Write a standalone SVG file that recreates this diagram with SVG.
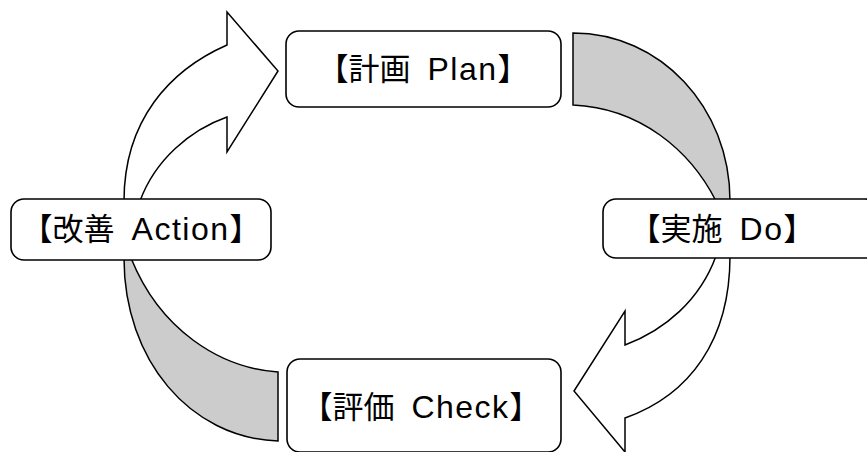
<svg xmlns="http://www.w3.org/2000/svg" width="867" height="452" viewBox="0 0 867 452">
<style>
.box{fill:#fff;stroke:#000;stroke-width:1.6}
.arrow{fill:#fff;stroke:#000;stroke-width:1.5;stroke-linejoin:miter}
.band{fill:#cccccc;stroke:#000;stroke-width:1.5}
.lbl{font-family:"Liberation Sans","Noto Sans CJK JP",sans-serif;font-size:31px;fill:#000;text-anchor:middle}
.lat{font-size:32px;letter-spacing:1.5px}
</style>
<rect width="867" height="452" fill="#fff"/>
<g id="connectors">
<path class="arrow" d="M124,201 C124,120 170,70 227,45 L227,12 L278,71 L227,152 L227,117 C190,130 155,160 140,201 Z"/>
<path class="band" d="M573,33 C660,33 730,107 730,201 L716,201 C690,150 640,108 573,105 Z"/>
<path class="arrow" d="M730,256 C730,340 690,395 625,418 L625,452 L574,391 L625,311 L625,345 C665,330 700,300 716,256 Z"/>
<path class="band" d="M124,258 C124,360 190,438 278,441 L278,372 C220,368 160,330 131,258 Z"/>
</g>
<g id="plan">
<rect class="box" x="286" y="31" width="275" height="76" rx="13"/>
<text class="lbl" x="423" y="80">【計画<tspan class="lat" dx="17">Plan</tspan>】</text>
</g>
<g id="do">
<rect class="box" x="603" y="199" width="275" height="59" rx="13"/>
<text class="lbl" x="722" y="240">【実施<tspan class="lat" dx="17">Do</tspan>】</text>
</g>
<g id="check">
<rect class="box" x="287" y="359" width="274" height="93" rx="13"/>
<text class="lbl" x="421" y="418">【評価<tspan class="lat" dx="17">Check</tspan>】</text>
</g>
<g id="action">
<rect class="box" x="11" y="199" width="260" height="61" rx="13"/>
<text class="lbl" x="141" y="240">【改善<tspan class="lat" dx="17">Action</tspan>】</text>
</g>
</svg>
